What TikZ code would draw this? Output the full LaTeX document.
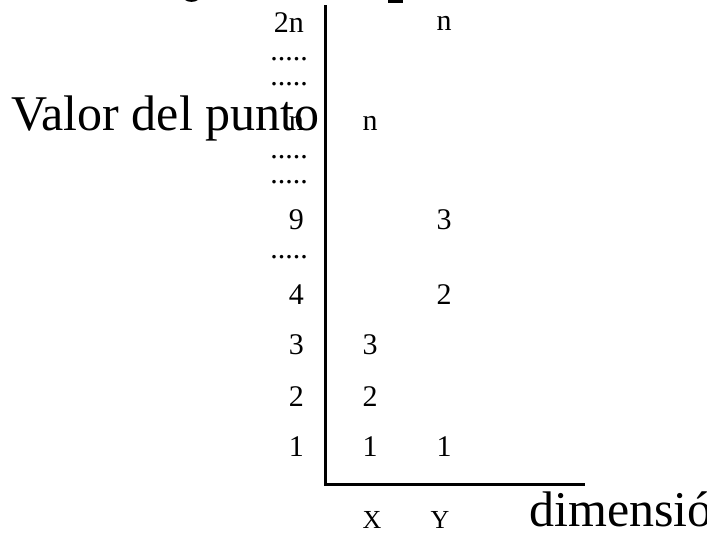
\documentclass[tikz,border=0pt]{standalone}
\usepackage{fontspec}
\setmainfont{Liberation Serif}
\begin{document}
\begin{tikzpicture}[x=1pt,y=1pt,
  lbl/.style={inner sep=0pt, font=\fontsize{30}{30}\selectfont},
  dots/.style={inner sep=0pt, anchor=east, font=\fontsize{30}{30}\selectfont},
  big/.style={inner sep=0pt, font=\fontsize{50}{50}\selectfont},
  axis/.style={line width=3pt}]
\clip (0,0) rectangle (707,-533);
\useasboundingbox (0,0) rectangle (707,-533);
% fragments of cut-off text at the top edge
\fill (185,0) .. controls (188,-2.5) and (195,-2.5) .. (198,0) -- cycle;
\fill (388,0) rectangle (403,-2.5);
% axes
\coordinate (top) at (325,-5);
\coordinate (origin) at (325,-484);
\coordinate (right) at (585,-484);
\draw[axis] (top) -- (origin) -- (right);
% left value labels
\node[lbl, anchor=east] (l2n) at (304,-23) {2n};
\node[dots] (d1) at (308,-59) {.....};
\node[dots] (d2) at (308,-84) {.....};
\node[lbl, anchor=east] (ln) at (304,-123) {n};
\node[dots] (d3) at (308,-157) {.....};
\node[dots] (d4) at (308,-182) {.....};
\node[lbl, anchor=east] (l9) at (304,-220) {9};
\node[dots] (d5) at (308,-257) {.....};
\node[lbl, anchor=east] (l4) at (304,-295) {4};
\node[lbl, anchor=east] (l3) at (304,-345) {3};
\node[lbl, anchor=east] (l2) at (304,-397) {2};
\node[lbl, anchor=east] (l1) at (304,-447) {1};
% X column
\node[lbl] (xn) at (370,-123) {n};
\node[lbl] (x3) at (370,-345) {3};
\node[lbl] (x2) at (370,-397) {2};
\node[lbl] (x1) at (370,-447) {1};
% Y column
\node[lbl] (yn) at (444,-23) {n};
\node[lbl] (y3) at (444,-220) {3};
\node[lbl] (y2) at (444,-295) {2};
\node[lbl] (y1) at (444,-447) {1};
% axis labels
\node[big, anchor=base west] (vlab) at (11,-130) {Valor del punto};
\node[inner sep=0pt, font=\fontsize{26}{26}\selectfont] (xl) at (372,-520) {X};
\node[inner sep=0pt, font=\fontsize{26}{26}\selectfont] (yl) at (440,-520) {Y};
\node[big, anchor=base west] (dlab) at (529,-526) {dimensión};
\end{tikzpicture}
\end{document}
